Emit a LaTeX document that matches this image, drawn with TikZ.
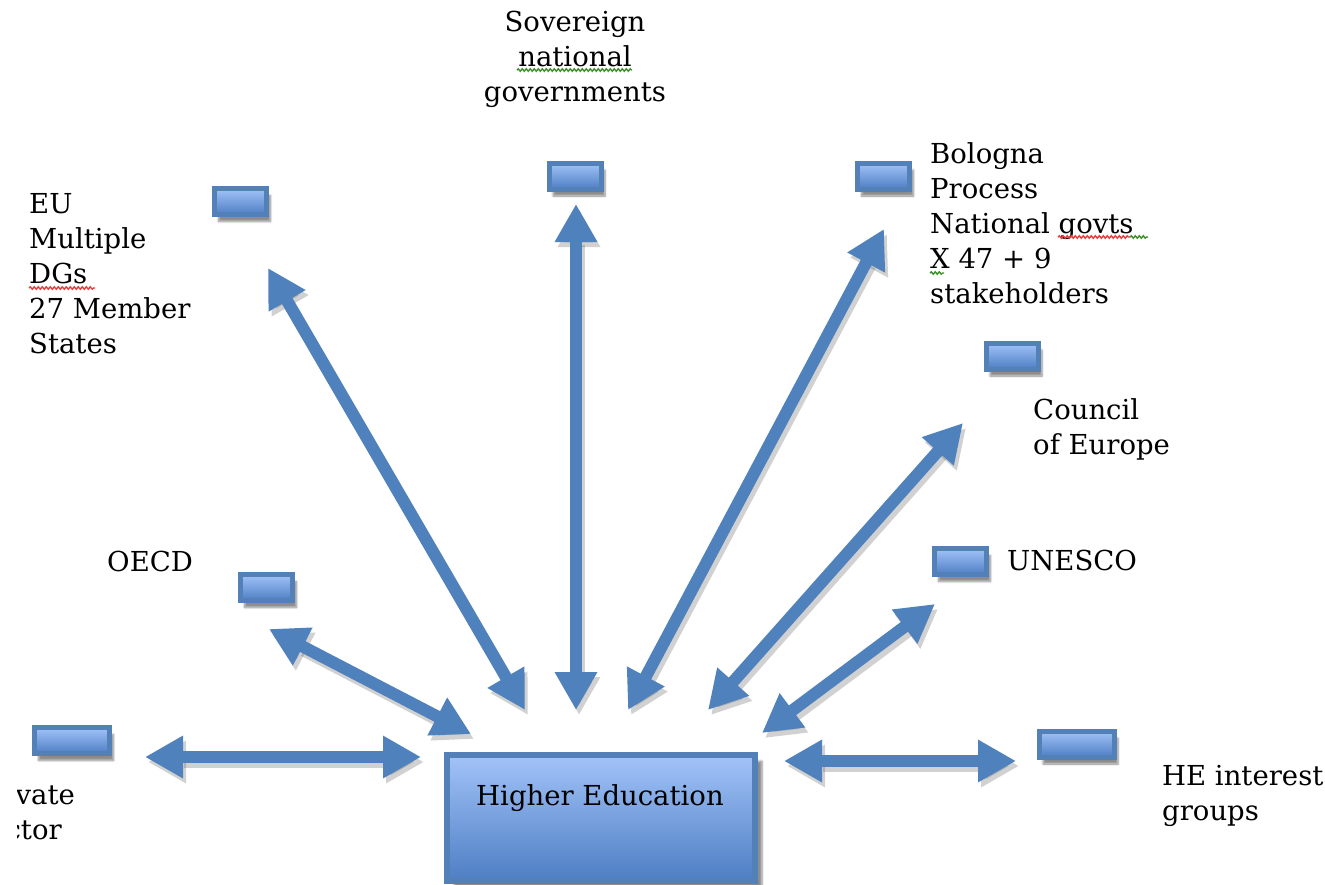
\documentclass[tikz,border=0pt]{standalone}
\usepackage{fontspec}
\setmainfont{DejaVu Serif}
\usetikzlibrary{arrows.meta,shadows.blur,decorations.pathmorphing}
\definecolor{ablue}{RGB}{79,129,189}
\definecolor{bblue}{RGB}{84,128,184}
\definecolor{lightb}{RGB}{162,195,248}
\definecolor{darkb}{RGB}{78,126,196}
\definecolor{wred}{RGB}{230,60,60}
\definecolor{wgreen}{RGB}{60,140,40}
\begin{document}
\begin{tikzpicture}[x=1pt,y=-1pt,
  txt/.style={font=\fontsize{27.5}{35}\selectfont, inner sep=0pt, align=left, anchor=base west},
  src/.style={draw=bblue, line width=5pt, top color=lightb, bottom color=darkb,
    minimum height=26pt, minimum width=52pt, inner sep=0pt,
    blur shadow={shadow xshift=4pt, shadow yshift=-7pt, shadow blur steps=6, shadow opacity=45}},
  widesrc/.style={src, minimum width=75pt},
  biarrow/.style={line width=12pt, draw=ablue, {Triangle[width=40pt,length=38pt]}-{Triangle[width=40pt,length=38pt]}},
  arrowshadow/.style={line width=12pt, draw=black!60, opacity=0.3, {Triangle[width=40pt,length=38pt]}-{Triangle[width=40pt,length=38pt]}, transform canvas={shift={(3pt,-5pt)}}},
  squiggle/.style={line width=1.4pt, decorate, decoration={snake, amplitude=1.2pt, segment length=4pt}}
]
\useasboundingbox (0,0) rectangle (1325,884);
\clip (0,0) rectangle (1325,884);

% arrow end points
\coordinate (pv-a) at (145,757);  \coordinate (pv-b) at (421,757);
\coordinate (hg-a) at (784,761);  \coordinate (hg-b) at (1016,761);
\coordinate (oe-a) at (269,629);  \coordinate (oe-b) at (471,734);
\coordinate (eu-a) at (268,268);  \coordinate (eu-b) at (525,710);
\coordinate (sv-a) at (576,204);  \coordinate (sv-b) at (576,710);
\coordinate (bo-a) at (884,229);  \coordinate (bo-b) at (628,710);
\coordinate (co-a) at (963,423);  \coordinate (co-b) at (708,710);
\coordinate (un-a) at (935,604);  \coordinate (un-b) at (762,733);

% arrow shadows
\foreach \n in {pv,hg,oe,eu,sv,bo,co,un}
  \draw[arrowshadow] (\n-a) -- (\n-b);
% arrows
\foreach \n in {pv,hg,oe,eu,sv,bo,co,un}
  \draw[biarrow] (\n-a) -- (\n-b);

% small source boxes
\node[widesrc] (pvbox) at (72,740.5) {};
\node[widesrc] (hgbox) at (1076.5,744) {};
\node[src] (eubox) at (240.5,201.5) {};
\node[src] (svbox) at (575,176) {};
\node[src] (bobox) at (883.5,176) {};
\node[src] (cobox) at (1012,356) {};
\node[src] (unbox) at (960.5,561.5) {};
\node[src] (oebox) at (266.5,587.5) {};

% central box
\node[draw=bblue, line width=6pt, top color=lightb, bottom color=darkb,
  minimum width=308pt, minimum height=126pt, inner sep=0pt,
  blur shadow={shadow xshift=7pt, shadow yshift=-6pt, shadow blur steps=6, shadow opacity=45}]
  (hebox) at (601,818) {};
\node[txt, anchor=base] (helabel) at (600,805) {Higher Education};

% labels (anchor = baseline of the last line)
\node[txt, align=center, anchor=base] (svtxt) at (575,101) {Sovereign\\national\\governments};
\node[txt] (eutxt) at (29,353) {EU\\Multiple\\DGs\\27 Member\\States};
\node[txt] (botxt) at (930,303) {Bologna\\Process\\National govts\\X 47 + 9\\stakeholders};
\node[txt] (cotxt) at (1033,454) {Council\\of Europe};
\node[txt] (untxt) at (1007,570) {UNESCO};
\node[txt] (oetxt) at (107,571) {OECD};
\node[txt] (hgtxt) at (1162,820) {HE interest\\groups};
\begin{scope}
  \clip (17,770) rectangle (140,860);
  \node[txt] (pvtxt) at (-25,839) {Private\\sector};
\end{scope}

% spell-check marks
\draw[squiggle, wred] (29,288) -- (95,288);
\draw[squiggle, wgreen] (517,70) -- (632,70);
\draw[squiggle, wred] (1058,237) -- (1130,237);
\draw[squiggle, wgreen] (1130,237) -- (1148,237);
\draw[squiggle, wgreen] (930,273) -- (944,273);
\end{tikzpicture}
\end{document}
